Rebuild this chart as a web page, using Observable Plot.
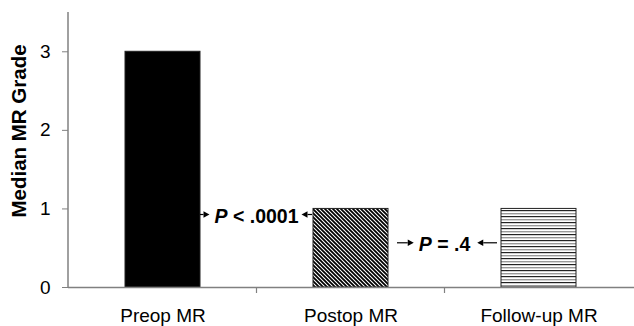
<!DOCTYPE html>
<html>
<head>
<meta charset="utf-8">
<script src="https://cdn.jsdelivr.net/npm/d3@7"></script>
<script src="https://cdn.jsdelivr.net/npm/@observablehq/plot@0.6"></script>
<style>
  html, body { margin: 0; padding: 0; background: #fff; }
  #chart svg { display: block; }
</style>
</head>
<body>
<div id="chart"></div>
<script>
// ---- data ----
const categories = ["Preop MR", "Postop MR", "Follow-up MR"];
const medianGrades = [3, 1, 1];
const yTicks = [0, 1, 2, 3];
const yLabel = "Median MR Grade";
// p-value annotations between neighbouring groups
const pFrom = ["Preop MR", "Postop MR"];
const pTo = ["Postop MR", "Follow-up MR"];
const pOperator = ["<", "="];
const pValue = [".0001", ".4"];
const pY = [0.91, 0.55];

// ---- styles ----
const barFills = ["#000", "url(#hatchDiag)", "url(#hatchHoriz)"];
const axisGray = "#808080";
const font = "'Liberation Sans', Arial, Helvetica, sans-serif";

const data = categories.map((c, i) => ({cat: c, v: medianGrades[i], fill: barFills[i]}));

const plot = Plot.plot({
  width: 634,
  height: 326,
  marginLeft: 68,
  marginRight: 0,
  marginTop: 12,
  marginBottom: 39,
  style: {fontFamily: font, fontSize: "19px", color: "#000", background: "#fff", overflow: "visible"},
  x: {domain: categories, paddingInner: 0.6, paddingOuter: 0.3, label: null},
  y: {domain: [0, 3.5], label: null},
  color: {type: "identity"},
  marks: [
    Plot.barY(data, {x: "cat", y: "v", fill: "fill", stroke: "#222", strokeWidth: 1}),
    Plot.axisY({ticks: yTicks, tickSize: 6, tickPadding: 12, stroke: axisGray, fill: "#000", label: null, tickFormat: d => String(d)}),
    Plot.axisX({tickSize: 0, tickPadding: 21, fill: "#000", label: null}),
    Plot.ruleY([0], {stroke: axisGray, strokeWidth: 1.5})
  ]
});

document.getElementById("chart").appendChild(plot);

const svg = d3.select(plot);
const xs = plot.scale("x");
const ys = plot.scale("y");
const bw = xs.bandwidth;
const step = xs.apply(categories[1]) - xs.apply(categories[0]);
const xL = 68;

// patterns
const defs = svg.insert("defs", ":first-child");
const pd = defs.append("pattern").attr("id", "hatchDiag").attr("patternUnits", "userSpaceOnUse")
  .attr("width", 4).attr("height", 4);
pd.append("rect").attr("width", 4).attr("height", 4).attr("fill", "#fff");
pd.append("path").attr("d", "M-1,-1L5,5M-1,3L1,5M3,-1L5,1").attr("stroke", "#000").attr("stroke-width", 1.8);
const ph = defs.append("pattern").attr("id", "hatchHoriz").attr("patternUnits", "userSpaceOnUse")
  .attr("width", 6).attr("height", 6);
ph.append("rect").attr("width", 6).attr("height", 6).attr("fill", "#fff");
ph.append("rect").attr("y", 0).attr("width", 6).attr("height", 1.2).attr("fill", "#222");
ph.append("rect").attr("y", 3).attr("width", 6).attr("height", 1.4).attr("fill", "#999");

const g = svg.append("g");

// y axis line
g.append("line").attr("x1", xL).attr("x2", xL)
  .attr("y1", ys.apply(ys.domain[1])).attr("y2", ys.apply(0))
  .attr("stroke", axisGray).attr("stroke-width", 1.5);

// category separator ticks
for (let i = 0; i < categories.length - 1; i++) {
  const bx = xs.apply(categories[i]) + bw / 2 + step / 2;
  g.append("line").attr("x1", bx).attr("x2", bx)
    .attr("y1", ys.apply(0)).attr("y2", ys.apply(0) + 6)
    .attr("stroke", axisGray).attr("stroke-width", 1.2);
}

// y label
g.append("text")
  .attr("transform", `translate(18,131) rotate(-90)`)
  .attr("text-anchor", "middle")
  .attr("dominant-baseline", "central")
  .attr("font-weight", "bold")
  .attr("font-size", 20.5)
  .attr("fill", "#000")
  .text(yLabel);

function arrow(x1, x2, y) {
  const dir = x2 > x1 ? 1 : -1;
  const head = 6;
  g.append("line").attr("x1", x1).attr("x2", x2 - dir * head).attr("y1", y).attr("y2", y)
    .attr("stroke", "#000").attr("stroke-width", 1.2);
  g.append("path").attr("d", `M${x2},${y}L${x2 - dir * head},${y - 3.2}L${x2 - dir * head},${y + 3.2}Z`)
    .attr("fill", "#000");
}

// p-value annotations
const leftGap = [0, 9];
const rightGap = [1, 4];
const textGapL = [5, 5];
const textGapR = [3, 7];
for (let i = 0; i < pFrom.length; i++) {
  const cx = xs.apply(pFrom[i]) + bw / 2 + step / 2;
  const y = ys.apply(pY[i]);
  const t = g.append("text")
    .attr("x", cx).attr("y", y)
    .attr("text-anchor", "middle")
    .attr("dominant-baseline", "central")
    .attr("font-weight", "bold")
    .attr("font-size", 19.5)
    .attr("fill", "#000");
  t.append("tspan").attr("font-style", "italic").text("P");
  t.append("tspan").text(` ${pOperator[i]} ${pValue[i]}`);
  const len = t.node().getComputedTextLength();
  const ts = cx - len / 2, te = cx + len / 2;
  const yA = y - 1;
  const barR = xs.apply(pFrom[i]) + bw;
  const barL = xs.apply(pTo[i]);
  arrow(barR + leftGap[i], ts - textGapL[i], yA);
  arrow(barL - rightGap[i], te + textGapR[i], yA);
}
</script>
</body>
</html>
